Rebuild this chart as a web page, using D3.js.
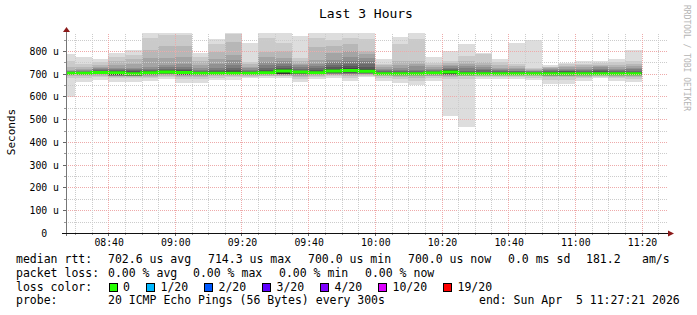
<!DOCTYPE html>
<html><head><meta charset="utf-8">
<script src="https://cdn.jsdelivr.net/npm/d3@7"></script>
<style>
body{margin:0;background:#fff;}
svg{display:block;}
text{font-family:"DejaVu Sans Mono",monospace;fill:#000;}
</style></head><body>
<svg id="c" width="697" height="315"></svg>
<script>
// ---------- data ----------
const slotEnds = ["08:30","08:35","08:40","08:45","08:50","08:55","09:00","09:05","09:10","09:15",
  "09:20","09:25","09:30","09:35","09:40","09:45","09:50","09:55","10:00","10:05",
  "10:10","10:15","10:20","10:25","10:30","10:35","10:40","10:45","10:50","10:55",
  "11:00","11:05","11:10","11:15","11:20"];
const medians = [702,702,706,704,700,704,708,705,702,702,702,702,704,712,708,704,712,714,711,700,
  700,700,703,708,700,700,700,700,700,700,700,700,700,700,700];
// 20 sorted ping round-trip times (microseconds) per 5-minute step
const pings = [
 [597,681,690,694,696,698,699,700,701,702,703,704,706,708,711,714,718,730,755,788],
 [662,681,689,693,696,698,699,700,701,702,703,704,706,708,712,716,721,730,744,774],
 [672,686,692,695,697,699,700,702,704,705,707,709,712,715,719,724,731,738,753,765],
 [665,680,686,689,691,692,693,694,694,695,708,710,713,717,721,726,738,756,775,791],
 [665,680,686,688,690,691,692,693,694,695,702,706,710,715,720,727,742,763,782,804],
 [668,680,687,690,693,695,697,699,700,701,707,710,713,716,722,731,768,804,856,885],
 [677,684,690,694,697,699,701,703,704,706,710,713,716,720,728,738,768,820,870,890],
 [658,676,686,690,693,694,695,696,697,698,708,712,716,722,730,742,775,820,870,885],
 [659,678,687,691,694,696,698,699,700,701,703,705,707,710,716,725,738,756,775,790],
 [673,682,689,693,696,698,699,700,701,702,703,706,710,718,727,742,763,797,829,853],
 [674,684,690,694,697,699,700,701,702,703,705,710,716,724,738,760,782,838,873,890],
 [680,687,692,695,697,698,699,700,701,702,703,705,708,712,718,724,731,742,753,834],
 [680,688,692,695,697,699,700,701,702,703,706,710,716,727,740,753,775,797,856,890],
 [681,688,692,694,696,697,698,699,700,701,716,720,726,733,742,755,768,800,834,890],
 [665,678,687,692,695,697,699,700,702,704,707,710,714,720,728,737,745,755,769,867],
 [679,686,691,694,697,699,700,701,702,703,706,710,716,724,733,742,760,819,856,890],
 [681,688,693,696,698,700,702,704,706,708,716,722,730,738,750,760,790,820,848,890],
 [670,683,690,695,698,701,703,705,707,709,718,724,732,742,758,775,800,830,857,885],
 [684,690,694,697,699,701,703,704,706,708,714,720,730,743,755,769,785,801,853,885],
 [670,682,689,693,696,698,699,699,700,700,701,703,706,710,716,722,730,737,743,766],
 [659,675,686,691,694,697,698,699,700,700,701,703,706,710,716,725,740,755,831,860],
 [652,670,683,689,693,696,698,699,700,700,701,703,706,711,718,733,745,755,853,885],
 [667,680,688,692,695,697,699,700,701,702,703,705,708,712,718,722,728,738,747,772],
 [516,675,686,690,693,695,696,697,698,699,712,715,718,722,727,733,740,748,755,799],
 [467,678,688,692,695,697,698,699,700,700,701,704,708,714,724,735,745,756,778,831],
 [677,685,690,694,696,698,699,700,700,701,702,705,709,715,722,730,740,753,786,790],
 [678,686,691,694,696,698,699,700,700,701,702,704,707,711,716,722,727,738,752,765],
 [677,684,690,694,696,698,699,700,700,701,702,704,707,710,714,720,727,734,742,834],
 [673,682,689,693,696,698,699,700,700,701,702,703,705,707,710,713,716,720,724,848],
 [655,672,684,689,692,694,695,696,697,698,703,706,709,712,716,720,724,728,731,738],
 [655,674,685,689,691,693,694,695,696,697,703,706,710,714,718,722,728,735,742,749],
 [670,680,687,692,695,697,698,699,700,700,701,703,706,710,715,722,730,738,745,756],
 [680,686,691,694,696,698,699,700,700,701,702,705,710,716,722,728,733,740,748,756],
 [670,680,687,692,695,697,698,699,700,700,701,703,706,710,716,722,730,740,750,765],
 [665,676,685,690,694,696,698,699,700,700,701,704,708,713,720,727,735,745,756,804]
];
const xTickLabels = ["08:40","09:00","09:20","09:40","10:00","10:20","10:40","11:00","11:20"];
const yTickValues = [0,100,200,300,400,500,600,700,800];
const yTickLabels = ["0","100 u","200 u","300 u","400 u","500 u","600 u","700 u","800 u"];
const lossLabels = ["0","1/20","2/20","3/20","4/20","10/20","19/20"];
const lossColors = ["#26ff00","#00b8ff","#0059ff","#5e00ff","#7e00ff","#dd00ff","#ff0000"];
const rttStats = ["702.6 us avg","714.3 us max","700.0 us min","700.0 us now","0.0 ms sd","181.2","am/s"];
const lossStats = ["0.00 % avg","0.00 % max","0.00 % min","0.00 % now"];
const probeText = "20 ICMP Echo Pings (56 Bytes) every 300s";
const endText = "end: Sun Apr  5 11:27:21 2026";
const titleText = "Last 3 Hours";
const timeStart = "08:27:21", timeEnd = "11:27:21";

// ---------- chart ----------
const svg = d3.select("#c");
const T = s => { const [h,m,sec] = s.split(":").map(Number); return new Date(Date.UTC(2026,3,5,h,m,sec||0)); };
const L = 66, R = 666, B = 233, TOP = 33;
const x = d3.scaleUtc().domain([T(timeStart), T(timeEnd)]).range([L, R]);
const y = d3.scaleLinear().domain([0, 879.1]).range([B, TOP]);

svg.append("rect").attr("width",697).attr("height",315).attr("fill","#fff");
svg.append("defs").append("clipPath").attr("id","clip")
  .append("rect").attr("x",L).attr("y",TOP).attr("width",R-L).attr("height",B-TOP);

const bars = slotEnds.map((s,i)=>({end:T(s), start:new Date(T(s).getTime()-300000), p:pings[i], m:medians[i]}));

const smoke = svg.append("g").attr("clip-path","url(#clip)").attr("shape-rendering","crispEdges");
for (let b = 0; b < 10; b++) {
  const c = Math.floor(190/10*(10-(b+1)))+50;
  const col = d3.rgb(c,c,c).formatHex();
  smoke.append("g").selectAll("rect").data(bars).join("rect")
    .attr("x", d => Math.max(L, x(d.start)))
    .attr("width", d => x(d.end) - Math.max(L, x(d.start)))
    .attr("y", d => y(d.p[19-b]))
    .attr("height", d => y(d.p[b]) - y(d.p[19-b]))
    .attr("fill", col);
}

// median line (loss 0 -> green)
const pts = [];
bars.forEach(d => { pts.push([Math.max(L, x(d.start)), y(d.m)]); pts.push([x(d.end), y(d.m)]); });
svg.append("path").attr("d", d3.line()(pts)).attr("fill","none")
  .attr("stroke", lossColors[0]).attr("stroke-width",3);

// grid
const grid = svg.append("g").attr("shape-rendering","crispEdges");
const minorY = d3.range(50, 900, 100);
const minCol = "#cccccc", majCol = "#eeaaaa";
grid.selectAll(".hmin").data(minorY).join("line")
  .attr("x1",L).attr("x2",R+2).attr("y1",d=>Math.round(y(d))+0.5).attr("y2",d=>Math.round(y(d))+0.5)
  .attr("stroke",minCol).attr("stroke-dasharray","1,1");
grid.selectAll(".hmaj").data(yTickValues.slice(1)).join("line")
  .attr("x1",L).attr("x2",R+2).attr("y1",d=>Math.round(y(d))+0.5).attr("y2",d=>Math.round(y(d))+0.5)
  .attr("stroke",majCol).attr("stroke-dasharray","1,1");
const majT = xTickLabels.map(T);
const minT = d3.utcMinute.every(5).range(x.domain()[0], x.domain()[1])
  .filter(t => !majT.some(m => m.getTime() === t.getTime()));
grid.selectAll(".vmin").data(minT).join("line")
  .attr("x1",d=>Math.round(x(d))+0.5).attr("x2",d=>Math.round(x(d))+0.5).attr("y1",B).attr("y2",TOP)
  .attr("stroke",minCol).attr("stroke-dasharray","1,1");
grid.selectAll(".vmaj").data(majT).join("line")
  .attr("x1",d=>Math.round(x(d))+0.5).attr("x2",d=>Math.round(x(d))+0.5).attr("y1",B).attr("y2",TOP)
  .attr("stroke",majCol).attr("stroke-dasharray","1,1");

// axes
const ax = svg.append("g").attr("shape-rendering","crispEdges");
ax.selectAll(".yt").data(yTickValues).join("line")
  .attr("x1",L-3).attr("x2",L).attr("y1",d=>Math.round(y(d))+0.5).attr("y2",d=>Math.round(y(d))+0.5)
  .attr("stroke","#666");
ax.selectAll(".yt2").data(minorY).join("line")
  .attr("x1",L-2).attr("x2",L).attr("y1",d=>Math.round(y(d))+0.5).attr("y2",d=>Math.round(y(d))+0.5)
  .attr("stroke","#999");
ax.selectAll(".xt").data(majT).join("line")
  .attr("x1",d=>Math.round(x(d))+0.5).attr("x2",d=>Math.round(x(d))+0.5).attr("y1",B).attr("y2",B+3)
  .attr("stroke","#666");
ax.selectAll(".xt2").data(minT).join("line")
  .attr("x1",d=>Math.round(x(d))+0.5).attr("x2",d=>Math.round(x(d))+0.5).attr("y1",B).attr("y2",B+2)
  .attr("stroke","#999");
ax.append("line").attr("x1",L+0.5).attr("x2",L+0.5).attr("y1",B+3).attr("y2",29).attr("stroke","#777");
ax.append("line").attr("x1",62).attr("x2",670).attr("y1",B+0.5).attr("y2",B+0.5).attr("stroke","#111");
svg.append("path").attr("d",`M${L-3},32 L${L+4},32 L${L+0.5},27 Z`).attr("fill","#8b1a1a");
svg.append("path").attr("d",`M668,${B-2.5} L668,${B+3.5} L674,${B+0.5} Z`).attr("fill","#8b1a1a");

// tick labels
svg.selectAll(".yl").data(yTickValues).join("text")
  .attr("x",59).attr("y",d=>y(d)+4).attr("text-anchor","end").attr("font-size","9.8px")
  .attr("xml:space","preserve")
  .text((d,i)=> yTickLabels[i].includes(" ") ? yTickLabels[i] : yTickLabels[i]+"\u00a0\u00a0");
svg.selectAll(".xl").data(majT).join("text")
  .attr("x",(d)=>x(d)+1).attr("y",246).attr("text-anchor","middle").attr("font-size","9.8px")
  .text((d,i)=>xTickLabels[i]);

// title, axis title, watermark
svg.append("text").attr("x",366).attr("y",18).attr("text-anchor","middle").attr("font-size","13px").text(titleText);
svg.append("text").attr("transform","translate(15,132) rotate(-90)").attr("text-anchor","middle")
  .attr("font-size","11px").text("Seconds");
svg.append("text").attr("transform","translate(684,5) rotate(90)").attr("font-size","8px")
  .style("fill","#b4b4b4").text("RRDTOOL / TOBI OETIKER");

// legend
const lg = svg.append("g").attr("font-size","11.5px");
const rttX = [108,208,308,408,508,586,642];
lg.append("text").attr("x",16).attr("y",263).text("median rtt:");
rttStats.forEach((s,i)=> lg.append("text").attr("x",rttX[i]).attr("y",263).text(s));
const lossX = [108,193,279,365];
lg.append("text").attr("x",16).attr("y",277).text("packet loss:");
lossStats.forEach((s,i)=> lg.append("text").attr("x",lossX[i]).attr("y",277).text(s));
lg.append("text").attr("x",16).attr("y",290.5).text("loss color:");
const sqX = [108.5,146,204,262,320,378,443];
lossLabels.forEach((s,i)=>{
  lg.append("rect").attr("x",sqX[i]+0.5).attr("y",283.5).attr("width",8).attr("height",8)
    .attr("fill",lossColors[i]).attr("stroke","#000").attr("shape-rendering","crispEdges");
  lg.append("text").attr("x",sqX[i]+14.5).attr("y",290.5).text(s);
});
lg.append("text").attr("x",16).attr("y",304).text("probe:");
lg.append("text").attr("x",108).attr("y",304).attr("xml:space","preserve").text(probeText);
lg.append("text").attr("x",479).attr("y",304).attr("xml:space","preserve").text(endText);
</script>
</body></html>
